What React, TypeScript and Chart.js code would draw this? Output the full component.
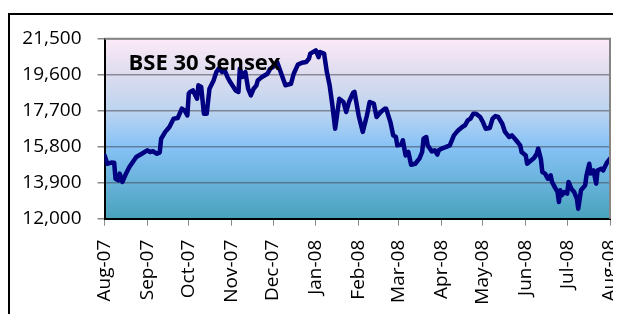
import React, { useEffect, useRef } from "react";
import { Chart, registerables } from "chart.js";

Chart.register(...registerables);

// Month tick labels and their day offsets from 1 Aug 2007
const monthLabels = ["Aug-07", "Sep-07", "Oct-07", "Nov-07", "Dec-07", "Jan-08", "Feb-08", "Mar-08", "Apr-08", "May-08", "Jun-08", "Jul-08", "Aug-08"];
const monthStartDays = [0, 31, 61, 92, 122, 153, 184, 213, 244, 274, 305, 335, 366];

// Y axis ticks
const yTicks = [12000, 13900, 15800, 17700, 19600, 21500];

// Series: day offset (since 1 Aug 2007) and BSE Sensex close
const tradingDays = [0, 2, 5, 7, 8, 10, 11, 13, 15, 18, 23, 27, 31, 33, 35, 38, 40, 41, 44, 47, 50, 53, 56, 58, 60, 61, 62, 64, 67, 68, 70, 72, 74, 76, 79, 81, 83, 85, 87, 89, 91, 95, 97, 98, 100, 102, 104, 106, 108, 110, 111, 114, 118, 120, 122, 125, 128, 131, 135, 137, 140, 143, 146, 148, 149, 153, 155, 156, 159, 161, 163, 165, 167, 168, 170, 173, 175, 177, 180, 181, 184, 187, 190, 192, 195, 197, 200, 203, 204, 207, 209, 211, 212, 215, 216, 218, 220, 222, 225, 228, 230, 231, 233, 234, 237, 239, 241, 242, 245, 247, 250, 253, 256, 259, 261, 263, 265, 267, 269, 272, 274, 276, 279, 281, 283, 285, 288, 290, 293, 295, 298, 301, 302, 305, 306, 309, 311, 313, 314, 316, 317, 319, 321, 323, 324, 326, 328, 329, 330, 331, 333, 335, 336, 338, 340, 342, 343, 345, 348, 349, 351, 352, 354, 356, 357, 360, 361, 364, 366];
const sensex = [15350, 14900, 14960, 14950, 14110, 14020, 14380, 13940, 14290, 14730, 15260, 15430, 15610, 15520, 15560, 15430, 15500, 16220, 16580, 16840, 17280, 17310, 17810, 17720, 17450, 18600, 18690, 18770, 18330, 19040, 18950, 17540, 17540, 18860, 19300, 19740, 19950, 19740, 19830, 19480, 19210, 18770, 18690, 19920, 19480, 19740, 18860, 18510, 18860, 19040, 19300, 19480, 19650, 19920, 20000, 20270, 19650, 19040, 19120, 19650, 20130, 20230, 20270, 20440, 20710, 20880, 20530, 20800, 20710, 19740, 19040, 17980, 16750, 17280, 18330, 18160, 17630, 18160, 18650, 18690, 17450, 16580, 17450, 18160, 18070, 17370, 17630, 17810, 17800, 17100, 16400, 16310, 15870, 15910, 16140, 15340, 15520, 14850, 14900, 15170, 15520, 16220, 16310, 15870, 15550, 15610, 15380, 15610, 15730, 15780, 15870, 16400, 16660, 16840, 16930, 17190, 17280, 17540, 17540, 17370, 17100, 16750, 16790, 17280, 17420, 17370, 17010, 16580, 16310, 16400, 16140, 15870, 15520, 15340, 14900, 15080, 15200, 15430, 15700, 15130, 14460, 14380, 14110, 14290, 13940, 13670, 13410, 12880, 13500, 13230, 13410, 13320, 13940, 13580, 13410, 13060, 12530, 13500, 13760, 14290, 14900, 14380, 14550, 13850, 14550, 14640, 14550, 14990, 15170];

const chartTitle = "BSE 30 Sensex";

export default function App() {
  const canvasRef = useRef<HTMLCanvasElement | null>(null);

  useEffect(() => {
    const canvas = canvasRef.current;
    if (!canvas) return;

    const plotBg = {
      id: "plotBg",
      beforeDraw(chart: any) {
        const { ctx, chartArea: a } = chart;
        const g = ctx.createLinearGradient(0, a.top, 0, a.bottom);
        g.addColorStop(0, "#fdeaf8");
        g.addColorStop(0.2, "#dcdcee");
        g.addColorStop(0.4, "#bcd4f0");
        g.addColorStop(0.6, "#86c2f6");
        g.addColorStop(0.8, "#68b2da");
        g.addColorStop(1, "#48a2bc");
        ctx.save();
        ctx.fillStyle = g;
        ctx.fillRect(a.left, a.top, a.right - a.left, a.bottom - a.top);
        ctx.restore();
      },
      afterDraw(chart: any) {
        const { ctx, chartArea: a } = chart;
        ctx.save();
        ctx.strokeStyle = "#858585";
        ctx.lineWidth = 2;
        ctx.beginPath();
        ctx.moveTo(a.left, a.top);
        ctx.lineTo(a.right, a.top);
        ctx.lineTo(a.right, a.bottom);
        ctx.stroke();
        ctx.restore();
      },
    };

    const titlePlugin = {
      id: "plotTitle",
      afterDatasetsDraw(chart: any) {
        const { ctx, chartArea: a } = chart;
        ctx.save();
        ctx.font = 'bold 22px "Open Sans"';
        ctx.fillStyle = "#000";
        ctx.textAlign = "left";
        ctx.textBaseline = "alphabetic";
        ctx.fillText(chartTitle, a.left + 24, a.top + 31);
        ctx.restore();
      },
    };

    const chart = new Chart(canvas, {
      type: "line",
      data: {
        datasets: [
          {
            data: tradingDays.map((d, i) => ({ x: d, y: sensex[i] })),
            borderColor: "#000080",
            borderWidth: 4.5,
            pointRadius: 0,
            tension: 0,
            borderJoinStyle: "round",
            borderCapStyle: "round",
            fill: false,
          },
        ],
      },
      options: {
        responsive: false,
        animation: false,
        events: [],
        layout: { padding: { left: 0, top: 30.7, right: 11, bottom: 0 } },
        plugins: { legend: { display: false }, tooltip: { enabled: false }, title: { display: false } },
        scales: {
          x: {
            type: "linear",
            min: monthStartDays[0],
            max: monthStartDays[monthStartDays.length - 1],
            afterBuildTicks(scale: any) {
              scale.ticks = monthStartDays.map((v) => ({ value: v }));
            },
            afterFit(scale: any) {
              scale.height = 95.3;
              scale.paddingLeft = 0;
              scale.paddingRight = 0;
            },
            grid: { drawOnChartArea: false, drawTicks: true, tickLength: 7, tickColor: "#888888", color: "#888888" },
            border: { display: true, color: "#000000", width: 2 },
            ticks: {
              autoSkip: false,
              maxRotation: 90,
              minRotation: 90,
              padding: 14,
              color: "#000000",
              font: { family: '"Open Sans"', size: 19 },
              callback: (v: any) => {
                const i = monthStartDays.indexOf(Number(v));
                return i >= 0 ? monthLabels[i] : "";
              },
            },
          },
          y: {
            type: "linear",
            min: yTicks[0],
            max: yTicks[yTicks.length - 1],
            afterBuildTicks(scale: any) {
              scale.ticks = yTicks.map((v) => ({ value: v }));
            },
            afterFit(scale: any) {
              scale.width = 96.5;
              scale.paddingTop = 0;
              scale.paddingBottom = 0;
            },
            grid: { drawTicks: true, tickLength: 7, tickColor: "#888888", color: "rgba(70,70,85,0.55)", lineWidth: 1.5 },
            border: { display: true, color: "#000000", width: 2 },
            ticks: {
              padding: 16,
              color: "#000000",
              font: { family: '"Open Sans"', size: 19 },
              callback: (v: any) => Number(v).toLocaleString("en-US"),
            },
          },
        },
      },
      plugins: [plotBg, titlePlugin],
    } as any);

    return () => chart.destroy();
  }, []);

  return (
    <div style={{ position: "relative", width: 613, height: 306, overflow: "hidden" }}>
      <div
        style={{
          position: "absolute",
          left: 0,
          top: 5,
          width: 660,
          height: 340,
          border: "2px solid #000",
          boxSizing: "border-box",
        }}
      />
      <canvas
        ref={canvasRef}
        width={613}
        height={306}
        style={{ position: "absolute", left: 0, top: 0, width: 613, height: 306 }}
      />
    </div>
  );
}
